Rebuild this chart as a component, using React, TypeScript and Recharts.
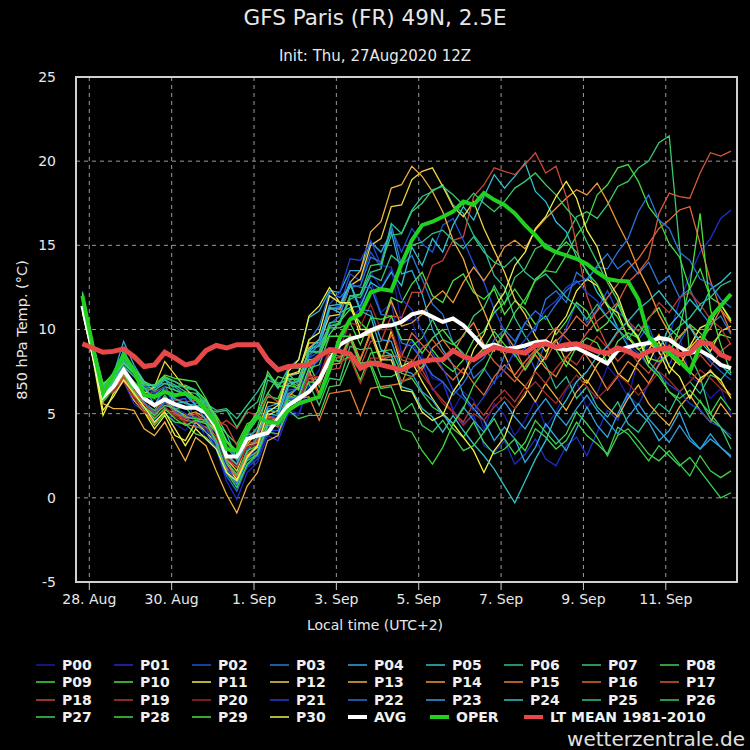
import React from "react";
import { LineChart, Line, XAxis, YAxis, CartesianGrid, ReferenceArea } from "recharts";

const FONT = "'DejaVu Sans', 'Open Sans', sans-serif";

// forecast steps in hours from 28 Aug 00:00 local (init 27 Aug 12Z = 14:00 local, first step +6h)
const HOURS = Array.from({ length: 64 }, (_, i) => -4 + 6 * i);

const TICK_HOURS = [0, 48, 96, 144, 192, 240, 288, 336];
const TICK_LABELS = ["28. Aug", "30. Aug", "1. Sep", "3. Sep", "5. Sep", "7. Sep", "9. Sep", "11. Sep"];
const Y_TICKS = [-5, 0, 5, 10, 15, 20, 25];

const MEMBER_NAMES = [
  "P00", "P01", "P02", "P03", "P04", "P05", "P06", "P07", "P08", "P09", "P10",
  "P11", "P12", "P13", "P14", "P15", "P16", "P17", "P18", "P19", "P20",
  "P21", "P22", "P23", "P24", "P25", "P26", "P27", "P28", "P29", "P30",
];
const MEMBER_COLORS = [
  "#1c1ca8", "#1e2ec8", "#2050d8", "#2a78d8", "#30a8e0", "#30c0d0", "#30c090", "#38c870", "#40d050", "#40dc40", "#50e040",
  "#f0f040", "#f0d040", "#f0b040", "#f09838", "#e88038", "#e06838", "#d85838", "#c84838", "#b83830", "#a02828",
  "#2040d0", "#2a70d8", "#30a0e0", "#30c0c8", "#30c088", "#38c868", "#40d050", "#40d840", "#48e040", "#f0f050",
];

const P00 = [11.6, 8.8, 6.1, 6.5, 7.4, 6.2, 5.3, 4.6, 5.4, 4.4, 4.0, 4.9, 3.9, 3.1, 1.4, 0.9,
  2.3, 3.0, 4.1, 3.6, 5.2, 5.0, 6.7, 7.6, 9.9, 10.4, 11.9, 11.6, 13.4, 12.5, 13.6, 10.4,
  10.6, 8.4, 7.1, 6.9, 5.2, 6.3, 5.8, 4.1, 5.6, 4.9, 3.7, 4.6, 5.8, 4.2, 5.1, 6.4,
  6.9, 5.3, 6.2, 7.8, 7.1, 6.0, 8.2, 9.1, 7.9, 8.8, 9.6, 7.2, 6.8, 5.9, 6.5, 4.9];
const P01 = [12.3, 9.0, 6.4, 6.2, 6.9, 5.6, 5.1, 5.9, 5.4, 5.6, 4.6, 4.9, 3.5, 2.9, 1.0, -0.1,
  1.5, 2.1, 3.7, 3.4, 5.0, 4.9, 6.6, 7.0, 8.9, 8.8, 10.7, 11.2, 12.9, 11.0, 11.6, 8.6,
  9.3, 8.1, 6.4, 6.9, 5.2, 4.4, 4.9, 3.1, 2.7, 3.4, 2.0, 2.6, 3.5, 2.3, 1.9, 3.1,
  3.6, 2.5, 3.9, 5.2, 4.6, 6.1, 5.5, 6.8, 8.0, 9.6, 11.7, 13.2, 14.6, 15.4, 16.6, 17.1];
const P02 = [11.9, 8.7, 5.9, 6.6, 7.7, 6.9, 6.1, 5.4, 6.4, 5.8, 5.9, 4.6, 4.9, 3.4, 2.4, 1.1,
  2.9, 3.3, 4.8, 4.9, 6.4, 6.5, 8.3, 8.7, 11.2, 11.4, 13.3, 12.9, 14.6, 13.7, 16.0, 14.6,
  16.0, 15.1, 14.6, 16.2, 16.6, 15.3, 13.9, 12.8, 11.2, 9.9, 8.4, 8.9, 7.6, 9.3, 8.8, 10.1,
  11.6, 10.4, 11.2, 12.3, 11.0, 10.6, 9.4, 10.2, 8.6, 7.9, 9.2, 10.3, 8.8, 8.1, 7.5, 7.0];
const P03 = [11.5, 8.6, 6.2, 7.1, 8.3, 7.6, 6.9, 6.3, 7.1, 6.4, 6.2, 5.6, 5.8, 4.4, 3.4, 2.2,
  3.7, 4.0, 5.3, 5.3, 7.2, 7.4, 9.3, 10.2, 12.2, 11.9, 12.5, 12.6, 14.3, 14.0, 16.2, 13.8,
  14.4, 13.0, 11.5, 10.9, 9.2, 8.6, 7.1, 7.7, 6.8, 8.5, 9.1, 10.4, 9.9, 11.8, 12.3, 11.6,
  13.4, 12.9, 13.8, 14.5, 13.6, 14.1, 13.3, 14.0, 12.7, 13.2, 11.9, 12.4, 11.1, 10.3, 10.8, 9.7];
const P04 = [11.7, 8.8, 6.5, 7.3, 9.3, 7.9, 6.9, 6.6, 7.1, 6.0, 6.3, 5.5, 5.4, 3.8, 2.2, 1.0,
  2.7, 3.6, 5.4, 5.6, 7.7, 8.2, 10.7, 11.1, 12.3, 12.2, 13.5, 13.5, 15.2, 14.6, 15.8, 13.3,
  13.5, 12.1, 10.0, 8.8, 7.9, 6.1, 5.3, 4.6, 3.4, 4.2, 3.5, 2.1, 3.0, 4.4, 3.6, 2.8,
  4.1, 5.4, 4.3, 3.6, 5.0, 6.2, 5.1, 4.5, 3.4, 4.0, 5.1, 3.6, 2.9, 3.8, 3.0, 2.5];
const P05 = [11.3, 8.5, 6.0, 6.8, 7.8, 7.3, 6.6, 5.5, 6.6, 5.6, 5.7, 5.3, 5.8, 4.5, 3.8, 2.3,
  3.8, 3.7, 5.0, 4.9, 6.6, 7.0, 8.7, 9.2, 11.3, 11.0, 11.3, 11.4, 12.8, 12.4, 13.4, 12.6,
  14.9, 13.8, 15.4, 14.6, 16.2, 17.3, 16.5, 17.9, 19.2, 18.4, 19.1, 19.9, 18.2, 17.6, 16.4, 15.8,
  14.3, 13.5, 12.2, 11.4, 10.1, 9.0, 8.3, 9.4, 8.7, 10.2, 10.9, 11.8, 11.1, 12.4, 12.8, 13.4];
const P06 = [11.9, 9.1, 6.6, 7.2, 8.1, 7.4, 6.6, 6.5, 7.0, 6.7, 6.3, 6.2, 5.6, 5.2, 5.3, 4.7,
  5.5, 6.3, 7.3, 6.5, 7.7, 7.7, 8.9, 9.0, 10.2, 10.4, 11.8, 12.1, 13.4, 13.6, 16.3, 15.7,
  17.1, 17.9, 18.2, 18.6, 17.4, 16.9, 15.6, 14.8, 13.2, 12.5, 10.7, 9.6, 8.8, 7.9, 6.5, 7.2,
  5.9, 6.6, 5.4, 4.8, 5.7, 4.4, 3.9, 4.8, 5.6, 5.1, 6.3, 6.9, 6.2, 7.3, 7.0, 7.8];
const P07 = [12.1, 9.0, 6.3, 6.9, 7.6, 6.4, 5.6, 5.2, 6.1, 5.3, 5.4, 4.6, 4.5, 3.9, 2.5, 2.0,
  3.4, 4.2, 6.2, 5.7, 7.0, 6.6, 6.8, 5.5, 7.1, 7.0, 9.0, 8.8, 8.9, 7.2, 7.2, 7.5,
  9.0, 9.5, 10.6, 9.4, 9.1, 9.6, 10.8, 11.3, 12.6, 11.5, 13.1, 13.6, 14.8, 15.1, 14.6, 15.5,
  16.7, 17.0, 16.6, 17.4, 18.5, 18.8, 19.6, 20.0, 21.1, 21.5, 14.9, 8.5, 7.2, 5.0, 4.2, 2.9];
const P08 = [11.4, 8.6, 5.7, 6.4, 7.2, 6.1, 5.2, 4.3, 5.0, 4.5, 4.4, 3.8, 3.6, 3.0, 1.8, 1.0,
  2.2, 2.6, 3.9, 3.8, 5.2, 4.7, 4.9, 4.9, 6.6, 6.7, 8.2, 8.2, 9.8, 8.4, 8.5, 6.9,
  7.1, 6.2, 5.4, 5.0, 4.1, 3.6, 4.5, 3.3, 2.6, 2.9, 3.5, 2.8, 4.1, 3.6, 2.9, 3.4,
  4.5, 3.7, 3.2, 2.6, 4.2, 3.8, 3.0, 2.2, 3.1, 2.5, 1.9, 2.4, 1.6, 0.8, 0.0, 0.3];
const P09 = [11.8, 8.9, 6.1, 6.7, 7.5, 6.9, 6.3, 6.1, 6.6, 6.4, 6.1, 6.0, 5.5, 4.9, 3.8, 3.2,
  4.4, 4.7, 6.0, 5.9, 7.4, 6.7, 8.0, 6.6, 8.2, 8.1, 8.4, 7.0, 8.6, 8.7, 8.8, 7.4,
  7.2, 7.8, 8.8, 8.0, 7.5, 8.2, 9.4, 9.9, 11.0, 11.6, 12.4, 11.5, 13.0, 13.5, 13.4, 14.4,
  15.6, 16.4, 18.0, 18.6, 19.6, 19.8, 18.8, 17.3, 16.5, 15.1, 14.3, 12.4, 13.6, 11.9, 11.5, 10.6];
const P10 = [12.0, 9.2, 6.7, 7.4, 8.4, 7.7, 6.9, 6.6, 7.2, 6.9, 6.6, 6.4, 5.8, 4.8, 3.3, 2.7,
  3.8, 5.1, 6.2, 7.2, 7.0, 6.4, 7.3, 8.5, 9.7, 10.5, 11.2, 10.4, 9.8, 10.1, 11.9, 11.6,
  12.7, 13.4, 12.0, 11.6, 12.9, 13.3, 12.2, 11.8, 12.4, 10.9, 11.7, 11.2, 10.3, 10.8, 9.7, 10.5,
  11.6, 11.1, 9.9, 10.4, 11.5, 10.2, 9.6, 10.7, 11.3, 10.1, 9.5, 10.3, 9.8, 9.1, 9.7, 9.5];
const P11 = [11.0, 8.3, 4.9, 6.2, 7.0, 5.8, 5.1, 4.1, 4.9, 3.7, 3.4, 4.5, 3.9, 3.3, 1.8, 1.1,
  2.5, 3.0, 4.9, 5.2, 7.5, 8.2, 10.8, 11.4, 12.5, 11.6, 11.5, 9.6, 9.7, 8.1, 9.9, 7.8,
  8.1, 6.9, 5.9, 5.0, 4.4, 3.6, 2.8, 1.5, 2.8, 3.6, 5.3, 6.1, 7.6, 8.4, 10.0, 10.8,
  12.3, 13.0, 12.6, 11.4, 11.0, 9.5, 8.8, 9.2, 8.7, 7.4, 8.5, 9.0, 10.1, 10.4, 11.5, 10.5];
const P12 = [11.5, 8.7, 6.0, 6.5, 7.3, 6.8, 6.2, 6.6, 8.1, 7.3, 6.5, 5.9, 5.0, 3.9, 2.3, 1.6,
  3.2, 3.9, 5.7, 5.6, 7.3, 7.4, 9.2, 9.2, 10.8, 10.9, 12.6, 13.0, 15.0, 15.4, 17.3, 17.4,
  18.9, 19.4, 19.6, 18.5, 17.3, 16.7, 17.6, 16.0, 14.7, 13.4, 11.8, 10.9, 9.6, 8.7, 9.4, 8.1,
  7.6, 6.8, 7.9, 8.6, 7.4, 6.9, 8.1, 8.8, 9.7, 8.5, 7.9, 8.9, 9.6, 8.7, 9.9, 10.2];
const P13 = [11.2, 8.4, 5.6, 5.3, 5.3, 5.2, 4.1, 3.7, 4.5, 3.3, 2.2, 3.6, 3.1, 1.6, 0.2, -0.9,
  0.7, 1.5, 3.4, 3.7, 6.0, 6.6, 8.9, 9.4, 11.3, 11.2, 12.8, 13.5, 15.8, 16.4, 18.4, 18.6,
  19.7, 19.1, 18.2, 17.0, 15.3, 14.2, 12.4, 11.1, 9.6, 8.5, 7.2, 6.6, 5.7, 6.8, 6.0, 5.2,
  6.3, 7.0, 6.1, 5.4, 4.8, 5.9, 6.7, 5.6, 4.9, 4.3, 5.4, 6.1, 5.2, 4.5, 5.6, 4.8];
const P14 = [11.6, 8.8, 6.2, 6.8, 7.7, 6.6, 5.8, 5.4, 5.8, 5.2, 4.9, 5.1, 4.7, 3.9, 2.6, 1.9,
  3.1, 3.3, 4.7, 4.6, 6.2, 6.0, 7.6, 6.2, 7.9, 8.0, 9.7, 8.2, 9.9, 10.0, 11.7, 10.2,
  10.4, 10.9, 11.8, 12.3, 11.6, 12.8, 13.7, 12.9, 13.8, 14.9, 15.3, 14.8, 15.9, 16.6, 17.2, 17.8,
  18.3, 18.0, 18.7, 17.6, 16.3, 15.1, 13.6, 12.4, 10.9, 9.8, 8.6, 7.5, 6.9, 7.6, 6.8, 6.1];
const P15 = [11.9, 9.0, 6.5, 6.9, 7.1, 6.1, 5.2, 4.4, 5.2, 5.1, 4.4, 4.2, 4.2, 3.3, 2.0, 1.3,
  2.4, 2.7, 4.3, 4.3, 5.9, 5.9, 6.0, 4.6, 6.2, 6.3, 6.4, 4.9, 6.5, 6.6, 6.7, 6.8,
  8.2, 7.6, 8.9, 9.4, 8.6, 9.7, 10.4, 9.1, 8.7, 9.8, 8.9, 7.6, 8.5, 7.7, 7.2, 8.3,
  9.1, 8.4, 7.5, 6.4, 7.2, 8.1, 7.6, 6.8, 7.9, 8.7, 9.6, 10.2, 9.3, 10.1, 11.2, 10.4];
const P16 = [11.4, 8.6, 6.1, 6.7, 7.3, 6.4, 5.6, 4.9, 5.7, 5.1, 4.6, 4.5, 4.2, 3.2, 1.7, 1.3,
  2.6, 3.1, 4.5, 4.2, 5.8, 5.7, 7.1, 7.0, 8.6, 8.4, 8.5, 8.3, 9.7, 8.2, 8.4, 8.4,
  9.8, 9.1, 8.4, 7.6, 7.0, 7.7, 6.8, 6.1, 7.2, 7.9, 7.3, 8.1, 8.8, 8.2, 9.3, 9.9,
  10.8, 10.2, 11.1, 11.9, 12.7, 13.6, 14.2, 15.1, 16.0, 16.5, 17.1, 17.3, 15.1, 12.9, 11.2, 9.8];
const P17 = [11.7, 8.8, 6.0, 6.6, 7.2, 6.3, 5.6, 5.1, 5.8, 5.0, 4.8, 5.0, 4.5, 3.6, 2.3, 1.8,
  3.2, 3.4, 4.8, 4.7, 6.1, 5.8, 7.3, 7.1, 8.4, 8.3, 9.6, 8.0, 8.1, 8.1, 9.7, 8.2,
  8.0, 8.9, 9.4, 8.6, 7.9, 7.4, 8.3, 8.9, 8.1, 7.5, 6.9, 7.8, 8.7, 9.4, 10.1, 9.5,
  8.9, 9.8, 10.5, 11.0, 11.6, 12.8, 13.4, 14.2, 16.9, 18.1, 17.9, 17.8, 19.3, 20.5, 20.3, 20.6];
const P18 = [11.8, 8.9, 6.3, 6.6, 7.1, 6.7, 6.1, 6.3, 6.6, 5.8, 5.7, 5.8, 5.4, 4.6, 4.3, 3.1,
  3.9, 3.7, 4.9, 4.6, 6.0, 5.9, 7.4, 6.0, 7.6, 7.7, 9.4, 7.8, 9.3, 9.3, 10.8, 10.7,
  12.2, 12.2, 13.8, 14.1, 15.3, 15.5, 17.9, 18.6, 19.6, 19.4, 19.2, 19.8, 20.5, 19.3, 19.7, 17.9,
  15.0, 12.0, 10.3, 9.0, 8.1, 8.8, 8.0, 7.4, 8.3, 9.1, 8.2, 7.6, 8.5, 7.8, 8.7, 9.2];
const P19 = [11.6, 8.7, 6.0, 6.4, 7.0, 6.0, 5.4, 5.1, 5.4, 4.9, 4.7, 4.8, 4.6, 4.2, 4.6, 4.1,
  5.1, 4.9, 6.1, 5.7, 7.0, 6.8, 6.9, 6.7, 8.2, 8.1, 8.3, 6.8, 8.3, 8.3, 8.4, 6.9,
  7.2, 7.6, 6.5, 5.8, 5.1, 4.5, 5.6, 4.9, 5.8, 6.4, 5.7, 6.6, 7.5, 6.8, 7.7, 8.4,
  7.9, 8.8, 9.6, 8.9, 9.8, 10.5, 9.9, 10.6, 11.6, 11.0, 11.9, 12.2, 11.5, 10.6, 10.1, 9.1];
const P20 = [11.3, 8.5, 5.9, 6.3, 6.9, 5.9, 5.1, 4.8, 5.3, 4.8, 4.5, 4.6, 4.1, 3.6, 2.4, 1.9,
  3.0, 3.2, 4.7, 4.5, 5.9, 5.7, 7.2, 7.2, 8.9, 8.9, 10.4, 10.2, 11.5, 10.0, 10.0, 8.4,
  8.2, 7.3, 6.5, 5.6, 5.1, 4.3, 5.0, 4.6, 5.4, 6.0, 5.3, 6.3, 6.9, 6.2, 5.6, 6.5,
  7.3, 6.6, 5.9, 6.5, 7.3, 6.8, 6.1, 6.7, 7.5, 7.0, 6.3, 6.9, 7.6, 7.1, 6.5, 6.0];
const P21 = [11.9, 9.0, 6.4, 7.0, 7.9, 7.3, 6.6, 6.2, 6.6, 5.3, 5.0, 4.6, 4.1, 3.3, 1.9, 0.9,
  1.8, 2.3, 4.0, 4.0, 5.7, 6.1, 8.3, 9.2, 11.5, 12.2, 14.2, 14.1, 15.3, 13.8, 13.7, 11.8,
  11.2, 9.9, 8.6, 7.7, 6.4, 5.9, 5.2, 6.0, 6.9, 7.6, 8.7, 9.4, 10.2, 11.2, 11.7, 12.5,
  12.9, 12.2, 11.7, 10.7, 10.1, 9.1, 8.6, 7.8, 7.4, 6.7, 6.3, 5.6, 5.2, 4.5, 4.2, 3.7];
const P22 = [11.6, 8.7, 6.1, 6.8, 7.7, 6.6, 5.7, 5.0, 5.7, 5.1, 4.8, 4.3, 3.9, 2.9, 1.3, 0.4,
  1.9, 2.5, 4.2, 4.3, 5.9, 5.9, 7.6, 8.2, 10.3, 10.8, 12.7, 12.5, 12.5, 10.9, 10.8, 9.2,
  9.0, 8.2, 7.3, 6.9, 6.1, 6.8, 7.8, 8.3, 9.4, 10.0, 9.3, 10.4, 11.1, 10.6, 11.5, 12.3,
  12.8, 13.0, 13.7, 13.6, 14.6, 15.4, 17.0, 18.0, 16.5, 16.0, 14.6, 14.1, 13.0, 12.7, 11.8, 11.3];
const P23 = [11.4, 8.6, 6.4, 7.0, 8.0, 7.5, 6.8, 6.7, 6.8, 6.6, 6.1, 5.5, 4.6, 3.2, 1.6, 0.8,
  2.3, 2.8, 4.4, 4.5, 6.2, 6.5, 8.5, 9.1, 11.2, 11.3, 12.8, 11.2, 11.1, 9.4, 9.3, 7.6,
  7.4, 6.3, 5.8, 4.9, 4.4, 5.4, 4.6, 3.9, 4.9, 5.7, 4.8, 4.1, 5.1, 5.9, 5.0, 4.3,
  5.3, 6.1, 5.2, 4.5, 3.8, 4.8, 5.6, 4.7, 4.0, 3.3, 4.3, 3.4, 2.9, 3.5, 3.0, 2.4];
const P24 = [11.5, 8.7, 6.0, 6.9, 8.8, 7.5, 6.5, 5.9, 6.3, 5.9, 5.6, 5.5, 5.1, 4.2, 2.6, 2.0,
  3.4, 3.8, 5.2, 5.1, 6.8, 6.9, 8.8, 9.4, 11.4, 11.5, 12.7, 11.1, 10.8, 8.8, 8.5, 6.6,
  6.4, 5.3, 4.8, 3.9, 4.9, 4.0, 3.2, 2.5, 1.7, 0.7, -0.3, 1.0, 2.3, 3.4, 4.9, 5.8,
  6.9, 7.5, 8.4, 9.0, 9.9, 10.5, 11.2, 11.7, 12.3, 11.5, 10.8, 10.1, 9.3, 8.6, 7.9, 7.3];
const P25 = [12.0, 9.1, 6.6, 7.3, 8.2, 7.5, 6.8, 6.6, 7.1, 6.9, 6.5, 6.4, 5.7, 4.5, 3.0, 2.3,
  3.8, 4.7, 7.0, 6.7, 7.1, 7.0, 8.7, 8.7, 10.4, 10.5, 12.0, 11.9, 13.2, 12.9, 14.4, 13.9,
  15.0, 15.2, 15.7, 15.9, 15.3, 14.8, 15.5, 14.6, 14.0, 13.7, 14.3, 13.4, 12.9, 13.3, 12.6, 11.9,
  11.4, 10.6, 11.5, 10.7, 10.0, 9.4, 10.3, 9.5, 9.0, 9.6, 10.2, 10.7, 11.5, 11.9, 12.6, 12.9];
const P26 = [11.7, 8.8, 6.2, 6.9, 7.8, 7.2, 6.5, 6.4, 6.8, 6.6, 6.7, 6.4, 5.3, 5.1, 5.2, 4.2,
  5.2, 5.7, 7.3, 6.8, 7.0, 7.1, 8.7, 8.6, 10.2, 10.3, 12.0, 12.1, 13.8, 13.9, 15.6, 15.7,
  17.0, 17.5, 18.3, 18.5, 18.0, 17.4, 18.1, 17.5, 17.0, 17.6, 18.4, 18.8, 19.3, 18.6, 18.0, 17.2,
  16.5, 15.2, 14.0, 12.8, 11.7, 10.3, 9.4, 8.1, 7.4, 6.3, 5.7, 4.8, 5.8, 4.7, 4.2, 3.5];
const P27 = [11.8, 9.0, 6.4, 7.0, 7.7, 6.3, 5.4, 4.9, 5.5, 5.3, 4.8, 4.7, 4.6, 3.9, 2.1, 1.4,
  2.8, 3.1, 4.6, 4.4, 5.8, 5.5, 6.9, 6.8, 8.3, 8.1, 9.5, 8.0, 8.0, 6.5, 6.6, 5.1,
  5.6, 4.3, 3.9, 4.6, 3.7, 2.8, 3.1, 3.9, 4.7, 3.5, 2.6, 3.3, 4.6, 3.9, 3.2, 3.8,
  5.1, 4.4, 3.6, 2.5, 3.7, 4.1, 3.4, 2.6, 2.2, 2.8, 2.0, 1.3, 2.5, 1.6, 1.2, 1.6];
const P28 = [11.5, 8.6, 5.8, 6.5, 7.4, 6.2, 5.4, 4.7, 5.3, 4.7, 4.3, 4.6, 4.4, 3.4, 1.5, 0.6,
  2.0, 2.6, 4.3, 4.4, 6.0, 6.0, 7.7, 7.9, 9.6, 9.6, 9.6, 7.9, 7.8, 6.1, 5.9, 4.1,
  3.9, 2.8, 2.0, 3.0, 4.4, 5.3, 6.7, 7.6, 8.9, 9.8, 11.0, 11.8, 12.9, 13.6, 14.6, 15.2,
  14.6, 13.4, 12.7, 11.5, 10.7, 9.6, 8.9, 7.8, 7.2, 6.3, 5.9, 6.4, 5.7, 5.0, 6.0, 5.2];
const P29 = [12.2, 9.2, 6.8, 7.2, 8.0, 7.4, 6.7, 6.7, 7.3, 7.1, 7.0, 6.9, 5.9, 4.7, 3.4, 2.8,
  4.2, 5.1, 7.5, 6.6, 6.7, 6.5, 8.2, 8.3, 10.1, 10.1, 10.4, 9.1, 10.7, 10.6, 10.8, 9.4,
  9.4, 8.6, 9.5, 10.0, 9.2, 8.5, 8.2, 8.9, 9.9, 9.1, 8.5, 7.6, 8.6, 9.2, 8.8, 7.8,
  9.0, 9.5, 9.2, 8.0, 9.3, 9.8, 9.5, 8.3, 8.1, 8.5, 10.1, 12.6, 16.9, 11.2, 9.1, 7.4];
const P30 = [11.1, 8.4, 5.2, 6.0, 7.0, 6.2, 5.4, 4.5, 5.1, 4.1, 3.1, 4.1, 3.5, 2.9, 1.5, 1.0,
  2.4, 3.1, 5.1, 5.5, 7.3, 7.5, 9.4, 9.8, 12.0, 11.6, 11.6, 10.0, 10.0, 8.2, 8.2, 6.4,
  6.3, 5.1, 4.6, 4.9, 6.3, 7.2, 8.8, 9.7, 11.3, 12.2, 13.8, 14.6, 16.0, 16.7, 17.9, 18.8,
  17.8, 15.9, 14.9, 13.0, 12.0, 10.3, 9.5, 8.0, 9.3, 7.8, 7.2, 5.9, 7.1, 7.5, 7.0, 5.9];

const MEMBERS = [
  P00, P01, P02, P03, P04, P05, P06, P07, P08, P09, P10,
  P11, P12, P13, P14, P15, P16, P17, P18, P19, P20,
  P21, P22, P23, P24, P25, P26, P27, P28, P29, P30,
];

const AVG = [11.4, 8.7, 6.0, 6.6, 7.6, 6.7, 5.9, 5.5, 5.85, 5.55, 5.35, 5.35, 5.05, 4.2, 2.45, 2.45,
  3.5, 3.7, 3.85, 4.7, 5.5, 5.9, 6.3, 7.0, 8.2, 9.1, 9.45, 9.6, 9.95, 10.2, 10.25, 10.45,
  10.9, 11.05, 10.75, 10.45, 10.65, 10.25, 9.6, 8.95, 9.1, 8.85, 8.9, 9.05, 9.25, 9.3, 8.9, 8.8,
  8.9, 8.6, 8.3, 7.98, 8.75, 8.95, 9.1, 9.2, 9.5, 9.4, 8.95, 8.6, 8.75, 8.4, 7.9, 7.7];
const OPER = [12.0, 9.0, 6.2, 7.3, 8.5, 7.6, 6.1, 6.0, 6.3, 6.1, 6.2, 5.9, 5.2, 4.4, 2.9, 2.8,
  4.1, 4.8, 4.5, 4.45, 5.2, 5.6, 5.8, 6.0, 7.6, 9.5, 10.6, 10.9, 12.2, 12.4, 12.3, 13.9,
  15.3, 16.2, 16.4, 16.7, 17.0, 17.6, 17.4, 18.1, 17.7, 17.4, 16.9, 16.2, 15.6, 14.9, 14.6, 14.4,
  14.2, 13.9, 13.4, 13.0, 12.9, 12.85, 11.8, 9.6, 8.9, 8.6, 8.1, 7.5, 9.0, 10.7, 11.4, 12.1];
const LT_MEAN = [9.15, 8.9, 8.65, 8.7, 8.85, 8.4, 7.8, 7.9, 8.65, 8.3, 7.9, 8.05, 8.75, 9.05, 8.9, 9.1,
  9.1, 9.1, 8.2, 7.6, 7.8, 7.85, 7.9, 8.4, 8.8, 8.7, 8.55, 7.7, 8.0, 7.9, 7.75, 7.6,
  7.9, 8.1, 8.2, 8.2, 8.75, 8.4, 8.2, 8.6, 8.95, 8.8, 8.7, 8.6, 9.05, 9.15, 8.95, 9.1,
  9.15, 8.95, 8.7, 8.6, 8.9, 8.7, 8.4, 8.7, 8.85, 8.9, 8.5, 8.6, 9.25, 9.15, 8.5, 8.25];

const data = HOURS.map((h, i) => {
  const row: Record<string, number> = { h };
  MEMBER_NAMES.forEach((name, k) => {
    row[name] = MEMBERS[k][i];
  });
  row.AVG = AVG[i];
  row.OPER = OPER[i];
  row.LT = LT_MEAN[i];
  return row;
});

const X_DOMAIN: [number, number] = [-7.75, 377.5];

const textStyle: React.CSSProperties = {
  position: "absolute",
  color: "#e8e8e8",
  fontFamily: FONT,
  whiteSpace: "nowrap",
  lineHeight: 1,
};

const LegendItem = ({ x, y, color, label, thick }: { x: number; y: number; color: string; label: string; thick: boolean }) => (
  <div style={{ position: "absolute", left: x, top: y - 7, height: 14, display: "flex", alignItems: "center" }}>
    <div style={{ width: 19, height: thick ? 4 : 2, background: color, opacity: thick ? 1 : 0.75 }} />
    <span style={{ marginLeft: 7, color: "#f0f0f0", fontFamily: FONT, fontWeight: 700, fontSize: 14, lineHeight: 1 }}>{label}</span>
  </div>
);

export default function App() {
  const legendItems = MEMBER_NAMES.map((name, k) => ({
    x: 36 + 78 * (k % 9),
    y: 665 + 17.3 * Math.floor(k / 9),
    color: MEMBER_COLORS[k],
    label: name,
    thick: false,
  }));
  const row4 = 665 + 17.3 * 3;
  legendItems.push({ x: 348, y: row4, color: "#ffffff", label: "AVG", thick: true });
  legendItems.push({ x: 430, y: row4, color: "#22d022", label: "OPER", thick: true });
  legendItems.push({ x: 524, y: row4, color: "#e84848", label: "LT MEAN 1981-2010", thick: true });

  return (
    <div style={{ position: "absolute", left: 0, top: 0, width: 750, height: 750, background: "#000", overflow: "hidden" }}>
      <LineChart width={750} height={750} data={data} margin={{ top: 77, right: 13, bottom: 138, left: 0 }}>
        <CartesianGrid stroke="#9a9a9a" strokeDasharray="4 4" strokeWidth={1} />
        <XAxis
          dataKey="h"
          type="number"
          domain={X_DOMAIN}
          ticks={TICK_HOURS}
          tickFormatter={(v: number) => TICK_LABELS[TICK_HOURS.indexOf(v)]}
          axisLine={false}
          tickLine={{ stroke: "#cfcfcf" }}
          tickSize={8}
          tickMargin={4}
          height={30}
          allowDataOverflow
          tick={{ fill: "#e8e8e8", fontSize: 14, fontFamily: FONT }}
        />
        <YAxis
          domain={[-5, 25]}
          ticks={Y_TICKS}
          axisLine={false}
          tickLine={false}
          tickSize={8}
          tickMargin={12}
          width={76}
          allowDataOverflow
          tick={{ fill: "#e8e8e8", fontSize: 14, fontFamily: FONT }}
        />
        <ReferenceArea x1={X_DOMAIN[0]} x2={X_DOMAIN[1]} y1={-5} y2={25} fill="none" fillOpacity={0} stroke="#d0d0d0" strokeWidth={2} ifOverflow="visible" />
        {MEMBER_NAMES.map((name, k) => (
          <Line
            key={name}
            type="linear"
            dataKey={name}
            stroke={MEMBER_COLORS[k]}
            strokeWidth={1.3}
            dot={false}
            isAnimationActive={false}
          />
        ))}
        <Line type="linear" dataKey="AVG" stroke="#ffffff" strokeWidth={4} dot={false} isAnimationActive={false} />
        <Line type="linear" dataKey="OPER" stroke="#22d022" strokeWidth={4} dot={false} isAnimationActive={false} />
        <Line type="linear" dataKey="LT" stroke="#e84848" strokeWidth={5} dot={false} isAnimationActive={false} />
      </LineChart>

      <div style={{ ...textStyle, left: 0, width: 750, top: 7, textAlign: "center", fontSize: 21.5 }}>GFS Paris (FR) 49N, 2.5E</div>
      <div style={{ ...textStyle, left: 0, width: 750, top: 49, textAlign: "center", fontSize: 15 }}>Init: Thu, 27Aug2020 12Z</div>
      <div style={{ ...textStyle, left: 0, width: 750, top: 618, textAlign: "center", fontSize: 14 }}>Local time (UTC+2)</div>
      <div
        style={{
          ...textStyle,
          left: 22,
          top: 330,
          fontSize: 14.5,
          transform: "translate(-50%, -50%) rotate(-90deg)",
        }}
      >
        850 hPa Temp. (°C)
      </div>

      {legendItems.map((it) => (
        <LegendItem key={it.label} {...it} />
      ))}

      <div style={{ ...textStyle, right: 5, top: 729, fontSize: 20, color: "#e0e0e0" }}>wetterzentrale.de</div>
    </div>
  );
}
